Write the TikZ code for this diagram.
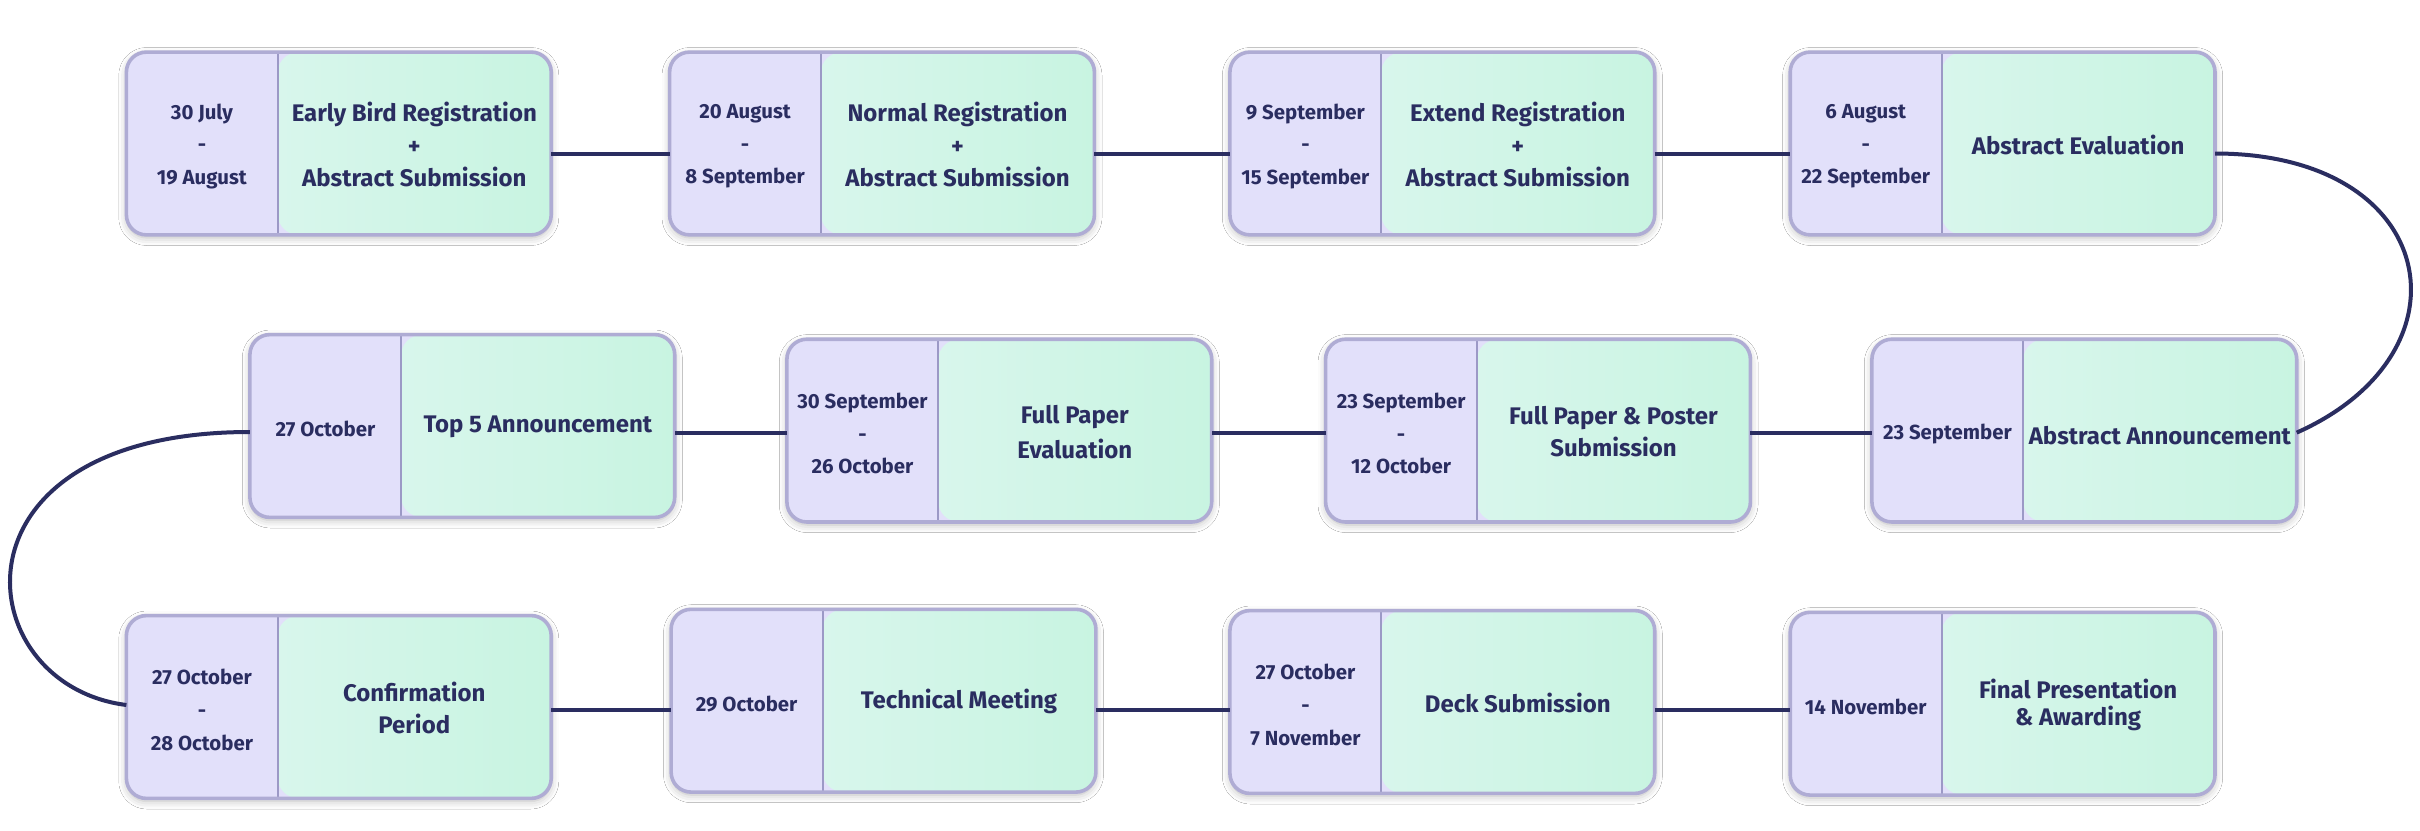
\documentclass[tikz,border=0pt]{standalone}
\usepackage{fontspec}
\setmainfont{Fira Sans}
\usetikzlibrary{shadows.blur}
\definecolor{lav}{HTML}{E2E0FA}
\definecolor{mintA}{HTML}{D8F6EC}
\definecolor{mintB}{HTML}{C8F4E1}
\definecolor{bord}{HTML}{AFACD4}
\definecolor{divc}{HTML}{9C99C6}
\definecolor{navy}{HTML}{2A2D60}
\tikzset{
 tlbox/.style={rounded corners=10pt, minimum width=212pt, minimum height=91pt, inner sep=0pt, fill=lav,
   blur shadow={shadow xshift=0pt, shadow yshift=-1.5pt, shadow opacity=28, shadow blur radius=4pt},
   path picture={
     \fill[lav] (path picture bounding box.south west) rectangle ([xshift=75.5pt]path picture bounding box.north west);
     \shade[left color=mintA, right color=mintB] ([xshift=75.5pt]path picture bounding box.south west) rectangle (path picture bounding box.north east);
     \draw[divc, line width=1pt] ([xshift=75.5pt]path picture bounding box.south west) -- ([xshift=75.5pt]path picture bounding box.north west);
   }},
 tlborder/.style={draw=bord, line width=1.8pt, rounded corners=10pt},
 datetxt/.style={text=navy, font=\fontsize{10.2}{16.3}\selectfont\bfseries, align=center, inner sep=0pt},
 titletxt/.style={text=navy, font=\fontsize{12}{16.2}\selectfont\bfseries, align=center, inner sep=0pt},
 conn/.style={draw=navy, line width=2pt},
}
\newcommand{\tlstep}[6][]{%
  \node[tlbox] (#2) at (#3,#4) {};
  \draw[tlborder] (#2.south west) rectangle (#2.north east);
  \node[datetxt] (#2d) at ([xshift=37.75pt,yshift=-1.5pt]#2.west) {#5};
  \node[titletxt,#1] (#2t) at ([xshift=37.75pt,yshift=-0.5pt]#2.center) {#6};
}
\begin{document}
\begin{tikzpicture}[x=0.5pt,y=-0.5pt]
\useasboundingbox[fill=white] (0,0) rectangle (2420,830);
% row 1
\tlstep{b1}{338.8}{143.5}{30 July\\-\\19 August}{Early Bird Registration\\+\\Abstract Submission}
\tlstep{b2}{882}{143.5}{20 August\\-\\8 September}{Normal Registration\\+\\Abstract Submission}
\tlstep{b3}{1442.3}{143.5}{9 September\\-\\15 September}{Extend Registration\\+\\Abstract Submission}
\tlstep{b4}{2002.6}{143.5}{6 August\\-\\22 September}{Abstract Evaluation}
% row 2
\tlstep[yshift=-2pt]{b5}{2084.3}{430.6}{23 September}{Abstract Announcement}
\tlstep{b6}{1538}{430.6}{23 September\\-\\12 October}{Full Paper \& Poster\\Submission}
\tlstep[font=\fontsize{12}{17.5}\selectfont\bfseries]{b7}{999.3}{430.6}{30 September\\-\\26 October}{Full Paper\\Evaluation}
\tlstep{b8}{462.3}{426}{27 October}{Top 5 Announcement}
% row 3
\tlstep{b9}{338.8}{707}{27 October\\-\\28 October}{Confirmation\\Period}
\tlstep{b10}{883.5}{700.7}{29 October}{Technical Meeting}
\tlstep{b11}{1442.3}{702}{27 October\\-\\7 November}{Deck Submission}
\tlstep[font=\fontsize{12}{13.5}\selectfont\bfseries]{b12}{2002.6}{703.7}{14 November}{Final Presentation\\\& Awarding}
% connectors
\draw[conn] ([yshift=-5pt]b1.east) -- ([yshift=-5pt]b1.east -| b2.west);
\draw[conn] ([yshift=-5pt]b2.east) -- ([yshift=-5pt]b2.east -| b3.west);
\draw[conn] ([yshift=-5pt]b3.east) -- ([yshift=-5pt]b3.east -| b4.west);
\draw[conn] ([yshift=-5pt]b4.east) .. controls +(225,0) and +(180,-80) .. ([yshift=-1pt]b5.east);
\draw[conn] ([yshift=-1pt]b5.west) -- ([yshift=-1pt]b5.west -| b6.east);
\draw[conn] ([yshift=-1pt]b6.west) -- ([yshift=-1pt]b6.west -| b7.east);
\draw[conn] ([yshift=-1pt]b7.west) -- ([yshift=-1pt]b7.west -| b8.east);
\draw[conn] ([yshift=-3pt]b8.west) .. controls +(-310,0) and +(-160,-20) .. ([yshift=1pt]b9.west);
\draw[conn] ([yshift=-1.5pt]b9.east) -- ([yshift=-1.5pt]b9.east -| b10.west);
\draw[conn] ([yshift=-1.5pt]b9.east -| b10.east) -- ([yshift=-1.5pt]b9.east -| b11.west);
\draw[conn] ([yshift=-1.5pt]b9.east -| b11.east) -- ([yshift=-1.5pt]b9.east -| b12.west);
\end{tikzpicture}
\end{document}
